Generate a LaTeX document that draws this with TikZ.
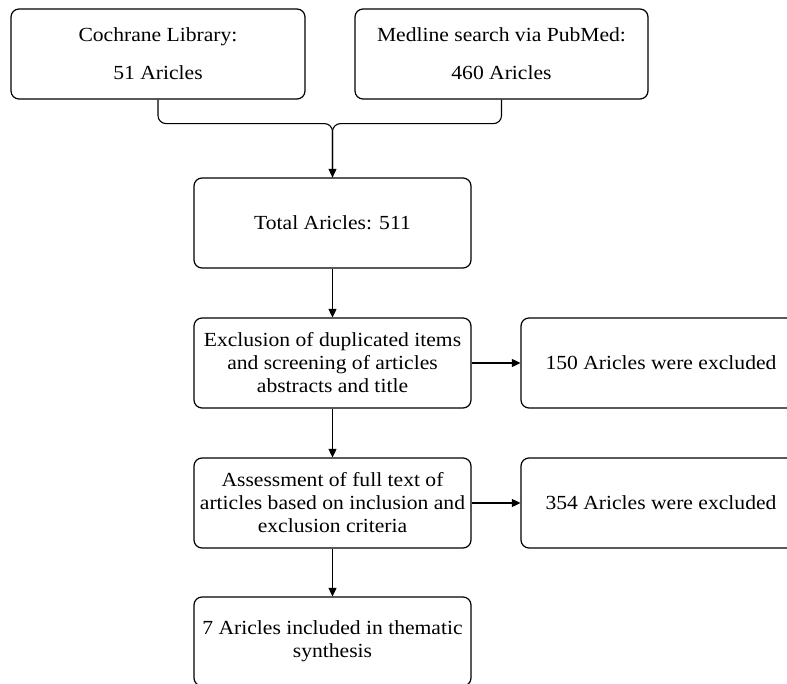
\documentclass[tikz,border=0pt]{standalone}
\usepackage{fontspec}
\setmainfont{Liberation Serif}[FakeStretch=1.08]
\usetikzlibrary{arrows.meta}

\begin{document}
\begin{tikzpicture}[x=1pt,y=-1pt,
  box/.style={draw, line width=1.2pt, rounded corners=8pt, align=center,
    minimum width=277pt, minimum height=90pt, inner sep=0pt,
    font=\fontsize{20}{23}\selectfont},
  flow/.style={line width=1.1pt, -{Triangle[length=8.5pt,width=8pt]}},
  merge/.style={line width=1.1pt, rounded corners=8pt}]
%  \draw [step=50pt,color=gray] (0,0) grid (787,684);

  \useasboundingbox (0,0) rectangle (787,684);

  \path (158,54) coordinate (Pcoch);
  \path (501.5,54) coordinate (Pmed);
  \path (332.5,223) coordinate (Ptotal);
  \path (332.5,363) coordinate (Pscreen);
  \path (332.5,503) coordinate (Pfull);
  \path (332.5,641.5) coordinate (Pincl);
  \path (661,363) coordinate (Pex1);
  \path (661,503) coordinate (Pex2);

  \node[box, minimum width=294pt] (coch) at (Pcoch) {Cochrane Library:\\[15pt]51 Aricles};
  \node[box, minimum width=293pt] (med) at (Pmed) {Medline search via PubMed:\\[15pt]460 Aricles};
  \node[box] (total) at (Ptotal) {Total Aricles: 511};
  \node[box] (screen) at (Pscreen) {Exclusion of duplicated items\\and screening of articles\\abstracts and title};
  \node[box] (full) at (Pfull) {Assessment of full text of\\articles based on inclusion and\\exclusion criteria};
  \node[box, minimum height=89pt] (incl) at (Pincl) {7 Aricles included in thematic\\synthesis};
  \node[box, minimum width=280pt] (ex1) at (Pex1) {150 Aricles were excluded};
  \node[box, minimum width=280pt] (ex2) at (Pex2) {354 Aricles were excluded};

  \draw[merge] (med.south) -- ++(0,24) -| (total.north);
  \draw[merge, flow] (coch.south) -- ++(0,24) -| (total.north);

  \draw[flow] (total) -- (screen);
  \draw[flow] (screen) -- (full);
  \draw[flow] (full) -- (incl);
  \draw[flow] (screen) -- (ex1);
  \draw[flow] (full) -- (ex2);

\end{tikzpicture}
\end{document}
